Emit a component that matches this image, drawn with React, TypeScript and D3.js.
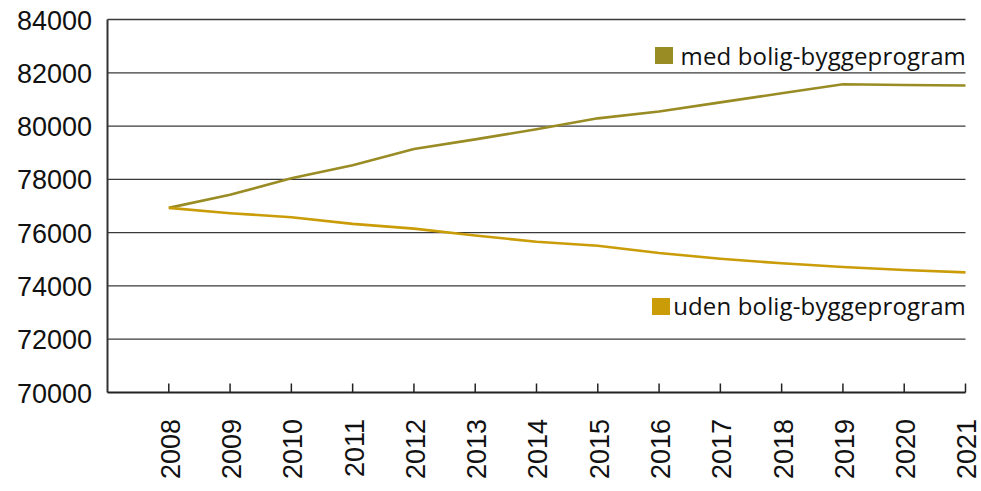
import React from 'react';
import * as d3 from 'd3';

const years = ['2008', '2009', '2010', '2011', '2012', '2013', '2014', '2015', '2016', '2017', '2018', '2019', '2020', '2021'];
const medValues = [76930, 77420, 78040, 78530, 79140, 79500, 79880, 80290, 80550, 80890, 81230, 81570, 81540, 81520];
const udenValues = [76930, 76730, 76580, 76330, 76150, 75890, 75660, 75510, 75235, 75020, 74850, 74710, 74600, 74510];
const yTicks = [70000, 72000, 74000, 76000, 78000, 80000, 82000, 84000];

const medLabel = 'med bolig-byggeprogram';
const udenLabel = 'uden bolig-byggeprogram';

const MED_COLOR = '#9a8c24';
const UDEN_COLOR = '#c99c08';

function App() {
  const width = 981;
  const height = 491;
  const left = 107.5;
  const right = 965.5;
  const top = 19.5;
  const bottom = 392.5;

  const xScale = d3.scaleBand<string>().domain(years).range([left, right]);
  // points sit on the right edge of each band
  const xPos = (y: string) => (xScale(y) ?? 0) + xScale.bandwidth();

  const yScale = d3.scaleLinear().domain([70000, 84000]).range([bottom, top]);

  const line = d3
    .line<number>()
    .x((_, i) => xPos(years[i]))
    .y((d) => yScale(d));

  const axisFont = '"Liberation Sans", Arial, sans-serif';
  const legendFont = '"Open Sans", sans-serif';

  return (
    <svg
      width={width}
      height={height}
      style={{ position: 'absolute', left: 0, top: 0, display: 'block', background: '#fff' }}
    >
      {/* gridlines */}
      {yTicks.slice(1).map((t) => (
        <line key={t} x1={left} x2={right} y1={yScale(t)} y2={yScale(t)} stroke="#3a3a3a" strokeWidth={1.3} />
      ))}

      {/* axes */}
      <line x1={left} x2={left} y1={top} y2={bottom} stroke="#333" strokeWidth={2} />
      <line x1={left} x2={right} y1={bottom} y2={bottom} stroke="#222" strokeWidth={2} />
      {years.map((yr) => (
        <line key={yr} x1={xPos(yr)} x2={xPos(yr)} y1={bottom} y2={bottom - 9} stroke="#222" strokeWidth={1.5} />
      ))}

      {/* y labels */}
      {yTicks.map((t) => (
        <text
          key={t}
          x={92}
          y={yScale(t) + 10}
          textAnchor="end"
          fontFamily={axisFont}
          fontSize={27}
          fill="#111"
        >
          {t}
        </text>
      ))}

      {/* x labels */}
      {years.map((yr) => (
        <text
          key={yr}
          transform={`translate(${xPos(yr) + 1.5}, 419) rotate(-90)`}
          textAnchor="end"
          dy="0.35em"
          fontFamily={axisFont}
          fontSize={27}
          fill="#111"
        >
          {yr}
        </text>
      ))}

      {/* series */}
      <path d={line(medValues) ?? ''} fill="none" stroke={MED_COLOR} strokeWidth={2.6} />
      <path d={line(udenValues) ?? ''} fill="none" stroke={UDEN_COLOR} strokeWidth={2.6} />

      {/* legend */}
      <rect x={655} y={47} width={18} height={17} fill={MED_COLOR} />
      <text x={966} y={65} textAnchor="end" fontFamily={legendFont} fontSize={24} letterSpacing={0.15} fill="#111">
        {medLabel}
      </text>
      <rect x={652} y={298} width={18} height={17} fill={UDEN_COLOR} />
      <text x={966} y={315} textAnchor="end" fontFamily={legendFont} fontSize={24} letterSpacing={0.15} fill="#111">
        {udenLabel}
      </text>
    </svg>
  );
}

export default App;
